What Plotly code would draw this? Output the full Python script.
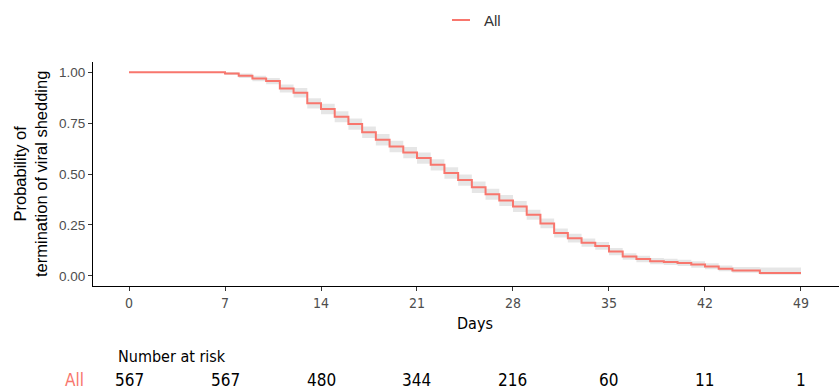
import plotly.graph_objects as go

# ---- data ----
days = [0, 7, 8, 9, 10, 11, 12, 13, 14, 15, 16, 17, 18, 19, 20, 21, 22, 23, 24, 25,
        26, 27, 28, 29, 30, 31, 32, 33, 34, 35, 36, 37, 38, 39, 40, 41, 42, 43, 44, 46, 49]
surv = [1.000, 0.994, 0.982, 0.969, 0.957, 0.920, 0.899, 0.847, 0.819, 0.781, 0.745,
        0.705, 0.668, 0.635, 0.605, 0.578, 0.545, 0.505, 0.470, 0.435, 0.400, 0.370,
        0.340, 0.300, 0.257, 0.210, 0.185, 0.163, 0.147, 0.119, 0.095, 0.082, 0.072,
        0.068, 0.063, 0.055, 0.046, 0.035, 0.026, 0.014, 0.014]
lower = [1.000, 0.986, 0.971, 0.956, 0.941, 0.900, 0.876, 0.822, 0.793, 0.754, 0.717,
         0.677, 0.640, 0.607, 0.577, 0.550, 0.517, 0.477, 0.442, 0.407, 0.373, 0.343,
         0.313, 0.275, 0.233, 0.188, 0.164, 0.143, 0.128, 0.101, 0.079, 0.067, 0.057,
         0.053, 0.048, 0.040, 0.032, 0.023, 0.015, 0.005, 0.005]
upper = [1.000, 1.000, 0.993, 0.982, 0.972, 0.940, 0.922, 0.872, 0.845, 0.808, 0.773,
         0.733, 0.696, 0.663, 0.633, 0.606, 0.573, 0.533, 0.498, 0.463, 0.427, 0.397,
         0.367, 0.325, 0.281, 0.232, 0.206, 0.183, 0.166, 0.137, 0.111, 0.098, 0.088,
         0.084, 0.079, 0.071, 0.062, 0.051, 0.043, 0.041, 0.041]

tick_days = [0, 7, 14, 21, 28, 35, 42, 49]
at_risk = [567, 567, 480, 344, 216, 60, 11, 1]
y_ticks = [0.0, 0.25, 0.5, 0.75, 1.0]
group = "All"

RED = "#F8766D"
NARROW = "Liberation Sans Narrow, DejaVu Sans Condensed, Liberation Sans, sans-serif"
SANS = "Liberation Sans, Arial, sans-serif"

fig = go.Figure()
fig.add_trace(go.Scatter(x=days, y=lower, mode="lines", line=dict(width=0, shape="hv"),
                         hoverinfo="skip", showlegend=False))
fig.add_trace(go.Scatter(x=days, y=upper, mode="lines", line=dict(width=0, shape="hv"),
                         fill="tonexty", fillcolor="rgba(150,150,150,0.24)",
                         hoverinfo="skip", showlegend=False))
fig.add_trace(go.Scatter(x=days, y=surv, mode="lines", name=group,
                         line=dict(color=RED, width=2, shape="hv"), showlegend=False))

W, H = 839, 390
L, R, T, B = 93, 0, 62, 104
pw = W - L - R
ph = H - T - B

def px_to_paper_x(px):
    return (px - L) / pw

def px_to_paper_y(py):
    return (H - B - py) / ph

annotations = []
# legend
fig.add_shape(type="line", xref="paper", yref="paper",
              x0=px_to_paper_x(452), x1=px_to_paper_x(470),
              y0=px_to_paper_y(20), y1=px_to_paper_y(20),
              line=dict(color=RED, width=2))
annotations.append(dict(text=group, xref="paper", yref="paper",
                        x=px_to_paper_x(482), y=px_to_paper_y(20),
                        xanchor="left", yanchor="middle", showarrow=False,
                        font=dict(family=SANS, size=15, color="#333333")))
# axis titles
annotations.append(dict(text="Days", xref="paper", yref="paper",
                        x=px_to_paper_x(475), y=px_to_paper_y(323),
                        xanchor="center", yanchor="middle", showarrow=False,
                        font=dict(family=NARROW, size=16, color="black")))
annotations.append(dict(text="Probability of<br>termination of viral shedding",
                        xref="paper", yref="paper",
                        x=px_to_paper_x(30), y=px_to_paper_y(174),
                        xanchor="center", yanchor="middle", textangle=-90,
                        showarrow=False,
                        font=dict(family=SANS, size=16.5, color="black")))
# risk table
annotations.append(dict(text="Number at risk", xref="paper", yref="paper",
                        x=px_to_paper_x(116), y=px_to_paper_y(356),
                        xanchor="left", yanchor="middle", showarrow=False,
                        font=dict(family=NARROW, size=16, color="black")))
annotations.append(dict(text=group, xref="paper", yref="paper",
                        x=px_to_paper_x(74), y=px_to_paper_y(380),
                        xanchor="center", yanchor="middle", showarrow=False,
                        font=dict(family=NARROW, size=17, color=RED)))
for d, n in zip(tick_days, at_risk):
    annotations.append(dict(text=str(n), xref="x", yref="paper",
                            x=d, y=px_to_paper_y(380),
                            xanchor="center", yanchor="middle", showarrow=False,
                            font=dict(family=NARROW, size=17, color="black")))

x0 = (L - 129) / 13.714
x1 = (W - 129) / 13.714

fig.update_layout(
    width=W, height=H,
    margin=dict(l=L, r=R, t=T, b=B),
    paper_bgcolor="white", plot_bgcolor="white",
    annotations=annotations,
    xaxis=dict(range=[x0, x1], tickvals=tick_days, ticktext=[str(t) for t in tick_days],
               showgrid=False, zeroline=False, showline=True, linecolor="black",
               linewidth=1, ticks="outside", ticklen=4, tickcolor="#333333",
               tickfont=dict(family=NARROW, size=14, color="#4d4d4d")),
    yaxis=dict(range=[-0.05, 1.05], tickvals=y_ticks,
               ticktext=[f"{v:.2f}" for v in y_ticks],
               showgrid=False, zeroline=False, showline=True, linecolor="black",
               linewidth=1, ticks="outside", ticklen=4, tickcolor="#333333",
               tickfont=dict(family=SANS, size=13.5, color="#4d4d4d")),
)

fig.write_html("out.html", config={"displayModeBar": False},
               post_script="document.body.style.margin='0';document.body.style.overflow='hidden';")
